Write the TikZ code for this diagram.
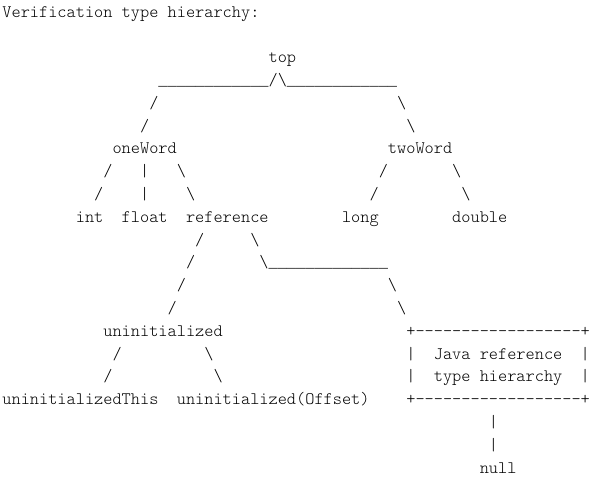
\documentclass[tikz,border=0pt]{standalone}
\usepackage{fontspec}
\setmonofont{Latin Modern Mono Light}
\newfontfamily\ulfont{Liberation Mono}
\tikzset{txt/.style={anchor=base west, inner sep=0pt, outer sep=0pt,
  font=\ttfamily\fontsize{17.486pt}{20pt}\selectfont, text=black},
  ultxt/.style={txt, font=\ulfont\fontsize{15.3pt}{18pt}\selectfont}}
\newcommand{\asc}[4]{\node[txt] (#1) at (#2,#3) {#4};}
\newcommand{\ascul}[4]{\node[ultxt] (#1) at (#2,#3) {#4};}
\newcommand{\bs}{\textbackslash}
\begin{document}
\begin{tikzpicture}[x=9.18pt,y=-22.8pt]
\useasboundingbox (-2.4pt,17pt) rectangle (595.6pt,-466pt);
\asc{title}{0}{0}{Verification type hierarchy:}
\asc{top}{29}{2}{top}
\ascul{ulA}{17}{3}{\_\_\_\_\_\_\_\_\_\_\_\_}
\asc{peak}{29}{3}{/\bs}
\ascul{ulB}{31}{3}{\_\_\_\_\_\_\_\_\_\_\_\_}
\asc{a4}{16}{4}{/}
\asc{b4}{43}{4}{\bs}
\asc{a5}{15}{5}{/}
\asc{b5}{44}{5}{\bs}
\asc{oneWord}{12}{6}{oneWord}
\asc{twoWord}{42}{6}{twoWord}
\asc{c7}{11}{7}{/}
\asc{d7}{15}{7}{|}
\asc{e7}{19}{7}{\bs}
\asc{f7}{41}{7}{/}
\asc{g7}{49}{7}{\bs}
\asc{c8}{10}{8}{/}
\asc{d8}{15}{8}{|}
\asc{e8}{20}{8}{\bs}
\asc{f8}{40}{8}{/}
\asc{g8}{50}{8}{\bs}
\asc{int}{8}{9}{int}
\asc{float}{13}{9}{float}
\asc{reference}{20}{9}{reference}
\asc{long}{37}{9}{long}
\asc{double}{49}{9}{double}
\asc{h10}{21}{10}{/}
\asc{i10}{27}{10}{\bs}
\asc{h11}{20}{11}{/}
\asc{i11}{28}{11}{\bs}
\ascul{ulC}{29}{11}{\_\_\_\_\_\_\_\_\_\_\_\_\_}
\asc{h12}{19}{12}{/}
\asc{i12}{42}{12}{\bs}
\asc{h13}{18}{13}{/}
\asc{i13}{43}{13}{\bs}
\asc{uninit}{11}{14}{uninitialized}
\asc{boxtop}{44}{14}{+------------------+}
\asc{j15}{12}{15}{/}
\asc{k15}{22}{15}{\bs}
\asc{bl15}{44}{15}{|}
\asc{java}{47}{15}{Java reference}
\asc{br15}{63}{15}{|}
\asc{j16}{11}{16}{/}
\asc{k16}{23}{16}{\bs}
\asc{bl16}{44}{16}{|}
\asc{typeh}{47}{16}{type hierarchy}
\asc{br16}{63}{16}{|}
\asc{uthis}{0}{17}{uninitializedThis}
\asc{uoff}{19}{17}{uninitialized(Offset)}
\asc{boxbot}{44}{17}{+------------------+}
\asc{m18}{53}{18}{|}
\asc{m19}{53}{19}{|}
\asc{null}{52}{20}{null}
\end{tikzpicture}
\end{document}
